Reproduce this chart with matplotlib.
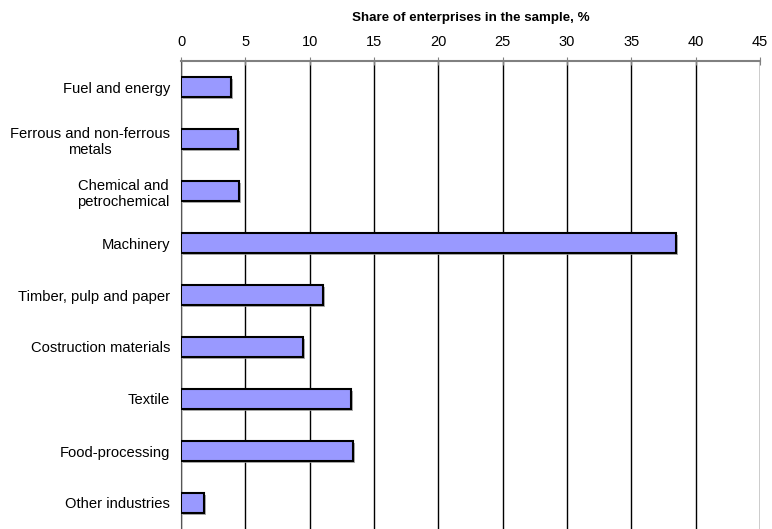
import numpy as np
import matplotlib.pyplot as plt
import matplotlib.patheffects as pe

plt.rcParams['font.family'] = ['Liberation Sans', 'DejaVu Sans']

categories = ["Fuel and energy", "Ferrous and non-ferrous\nmetals",
              "Chemical and\npetrochemical", "Machinery",
              "Timber, pulp and paper", "Costruction materials",
              "Textile", "Food-processing", "Other industries"]
shares = [3.9, 4.4, 4.5, 38.5, 11.0, 9.5, 13.2, 13.4, 1.8]
xticks = list(range(0, 50, 5))

fig = plt.figure(figsize=(7.72, 5.29), dpi=100)
ax = fig.add_axes([181/772, 0.0, (760-181)/772, (530-62)/529])

y = np.arange(len(categories))
bars = ax.barh(y, shares, height=0.4, color="#9999ff", edgecolor="black",
               linewidth=1.5, zorder=3)
for b in bars:
    b.set_path_effects([pe.SimplePatchShadow(offset=(1.5, -1.5), shadow_rgbFace="#999999", alpha=0.8),
                        pe.Normal()])

ax.set_xlim(0, 45)
ax.set_ylim(8.5, -0.5)
ax.set_xticks(xticks)
ax.xaxis.tick_top()
ax.xaxis.set_label_position("top")
ax.set_xlabel("Share of enterprises in the sample, %", fontsize=9.6,
              fontweight="bold", labelpad=10)
ax.tick_params(axis="x", direction="inout", length=6, color="#808080",
               labelsize=10.5, pad=6)
ax.set_yticks(y)
ax.set_yticklabels(categories, fontsize=10.6, multialignment="center")
ax.tick_params(axis="y", length=0, pad=8)
ax.grid(axis="x", color="black", linewidth=1, zorder=0)

for s in ["right", "bottom"]:
    ax.spines[s].set_visible(False)
ax.spines["top"].set_color("#808080")
ax.spines["top"].set_linewidth(1.5)
ax.spines["left"].set_color("#555555")

fig.savefig("out.png", dpi=100)
